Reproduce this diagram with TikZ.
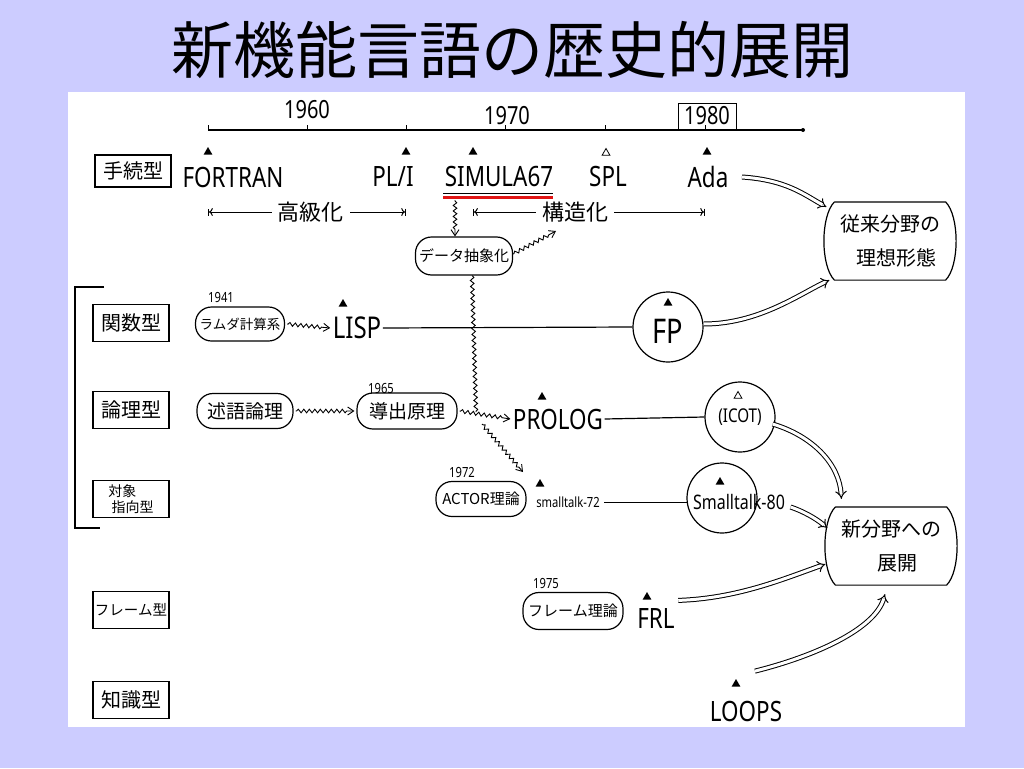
\documentclass[tikz,border=0pt]{standalone}
\usepackage{fontspec}
\newfontfamily\jp{Noto Sans CJK JP}
\newfontfamily\hand[FakeStretch=0.8]{Noto Sans}
\usetikzlibrary{arrows.meta,shapes.geometric,decorations.pathmorphing,calc}
\definecolor{bgc}{RGB}{204,204,255}
\definecolor{ulred}{RGB}{225,20,20}
\begin{document}
\begin{tikzpicture}[x=1pt,y=-1pt,line width=1.2pt,
  rowlab/.style={draw, rectangle, minimum width=76pt, minimum height=37pt, inner sep=1pt, font=\jp\fontsize{20}{22}\selectfont},
  oval/.style={draw, rectangle, rounded corners=16pt, minimum height=34pt, inner sep=1pt},
  lang/.style={inner sep=1pt, font=\hand\fontsize{28}{30}\selectfont},
  yr/.style={inner sep=0pt, font=\hand\fontsize{25}{27}\selectfont},
  yrs/.style={inner sep=0pt, font=\hand\fontsize{14}{15}\selectfont},
  tri/.style={regular polygon, regular polygon sides=3, fill, inner sep=0pt, minimum size=10pt},
  otri/.style={regular polygon, regular polygon sides=3, draw, line width=0.8pt, inner sep=0pt, minimum size=9pt},
  ring/.style={draw, circle, minimum size=70pt, inner sep=0pt},
  wavy/.style={decorate, decoration={snake, amplitude=1.8pt, segment length=5.5pt, pre length=1pt, post length=6pt}, -{Straight Barb[length=6pt,width=8pt]}, line width=0.9pt},
  dbl/.style={double, double distance=3pt, line width=1pt, -{Implies[scale=1.6]}},
  span/.style={|<->|, line width=1pt},
  barrel/.style={inner sep=0pt, minimum width=110pt, minimum height=77pt, align=center, font=\jp\fontsize{20}{34}\selectfont},
]
% background and panel
\fill[bgc] (0,0) rectangle (1024,768);
\fill[white] (68,92) rectangle (965,727);
\useasboundingbox (0,0) rectangle (1024,768);

% title
\node[font=\jp\fontsize{62}{66}\selectfont, inner sep=0pt] (title) at (512,50) {新機能言語の歴史的展開};

% timeline
\draw (208,130) -- (803,130);
\foreach \t in {208,307,406,505,605,705} \draw[line width=1pt] (\t,130) -- (\t,125);
\fill (803,130) circle (2pt);
\node[yr] (y60) at (307,110) {1960};
\node[yr] (y70) at (507,116) {1970};
\node[yr, draw, line width=1pt, inner sep=2pt, minimum width=58pt, minimum height=26pt] (y80) at (707,116) {1980};

% row labels
\node[rowlab, minimum height=32pt] (r1) at (133,171) {手続型};
\node[rowlab] (r2) at (131,323) {関数型};
\node[rowlab] (r3) at (131,410) {論理型};
\node[rowlab, align=left, font=\jp\fontsize{14}{16}\selectfont] (r4) at (131,499) {対象\\\ 指向型};
\node[rowlab, font=\jp\fontsize{14.5}{16}\selectfont] (r5) at (131,610) {フレーム型};
\node[rowlab] (r6) at (131,700) {知識型};
\draw (104,287) -- (75,287) -- (75,528) -- (100,528);

% procedural row
\node[lang] (fortran) at (233,177) {FORTRAN};
\node[lang] (pl1) at (393,177) {PL/I};
\node[lang] (simula) at (499,177) {SIMULA67};
\node[lang] (spl) at (608,177) {SPL};
\node[lang] (ada) at (708,177) {Ada};
\node[tri] (tfortran) at (208,152) {};
\node[tri] (tpl1) at (406,152) {};
\node[tri] (tsimula) at (473,152) {};
\node[otri] (tspl) at (606,153) {};
\node[tri] (tada) at (707,152) {};
\draw[line width=1pt] (443,193) -- (553,193);
\draw[ulred, line width=3pt] (443,197) -- (553,197);

\coordinate (s1) at (208,212);
\coordinate (s2) at (406,212);
\coordinate (s3) at (473,212);
\coordinate (s4) at (705,212);
\draw[span] (s1) -- node[pos=0.52, fill=white, inner xsep=6pt, font=\jp\fontsize{22}{24}\selectfont] (koukyu) {高級化} (s2);
\draw[span] (s3) -- node[pos=0.44, fill=white, inner xsep=6pt, font=\jp\fontsize{22}{24}\selectfont] (kouzou) {構造化} (s4);

\node[oval, minimum width=97pt, minimum height=38pt, font=\jp\fontsize{15}{17}\selectfont] (data) at (464,256) {データ抽象化};
\coordinate (simbot) at (455,200);
\draw[wavy] (simbot) -- (simbot |- data.north);
\coordinate (kz) at (556,231);
\draw[wavy] ([yshift=2pt]data.east) -- (kz);
\coordinate (bend1) at (476,412);
\coordinate (acttip) at (523,472);
\draw[decorate, decoration={snake, amplitude=1.8pt, segment length=6pt}, line width=0.9pt] ([xshift=8pt]data.south) -- (bend1);
\draw[wavy] ($(bend1)+(6,12)$) -- (acttip);

% barrels
\node[barrel] (old) at (890,241) {従来分野の\\\ \ \ 理想形態};
\draw (old.north west) -- (old.north east) .. controls +(14,14) and +(14,-14) .. (old.south east) -- (old.south west) .. controls +(-14,-14) and +(-14,14) .. (old.north west);
\node[barrel] (new) at (891,546) {新分野への\\\ \ \ 展開};
\draw (new.north west) -- (new.north east) .. controls +(14,14) and +(14,-14) .. (new.south east) -- (new.south west) .. controls +(-14,-14) and +(-14,14) .. (new.north west);

% functional row
\node[yrs] (y41) at (221,297) {1941};
\node[oval, minimum width=89pt, font=\jp\fontsize{13.5}{15}\selectfont] (lambda) at (240,324) {ラムダ計算系};
\node[lang, font=\hand\fontsize{30}{32}\selectfont] (lisp) at (357,328) {LISP};
\node[tri] (tlisp) at (343,304) {};
\draw[wavy] ([xshift=2pt]lambda.east) -- ([xshift=-1pt]lisp.west);
\node[ring] (fp) at (668,327) {};
\node[lang, font=\hand\fontsize{34}{36}\selectfont] (fptxt) at (668,331) {FP};
\node[tri] (tfp) at (668,303) {};
\draw (lisp.east) -- (fp.west);

% logic row
\node[oval, minimum width=96pt, minimum height=35pt, font=\jp\fontsize{19}{21}\selectfont] (jutsugo) at (245,411) {述語論理};
\node[yrs] (y65) at (381,388) {1965};
\node[oval, minimum width=100pt, minimum height=36pt, font=\jp\fontsize{19}{21}\selectfont] (dousyutsu) at (407,411) {導出原理};
\node[lang] (prolog) at (558,419) {PROLOG};
\node[tri] (tprolog) at (542,397) {};
\draw[wavy] ([xshift=2pt]jutsugo.east) -- ([xshift=-2pt]dousyutsu.west);
\draw[wavy] ([xshift=2pt]dousyutsu.east) -- ([xshift=-1pt]prolog.west);
\node[ring, font=\hand\fontsize{19}{21}\selectfont] (icot) at (740,417) {(ICOT)};
\node[otri] (ticot) at (738,396) {};
\draw (prolog.east) -- (icot.west);

% object-oriented row
\node[yrs] (y72) at (462,472) {1972};
\node[oval, minimum width=90pt, minimum height=35pt, font=\jp\fontsize{15}{17}\selectfont] (actor) at (481,499) {ACTOR理論};
\node[inner sep=1pt, font=\hand\fontsize{14}{16}\selectfont] (st72) at (568,502) {smalltalk-72};
\node[tri] (tst72) at (540,484) {};
\node[ring] (c80) at (722,498) {};
\node[tri] (tst80) at (720,482) {};
\node[inner sep=1pt, font=\hand\fontsize{20}{22}\selectfont] (st80) at (739,502) {Smalltalk-80};
\draw[line width=1pt] ([xshift=3pt]st72.east) -- ([xshift=-3pt]st80.west);

% frame row
\node[yrs] (y75) at (546,583) {1975};
\node[oval, minimum width=100pt, minimum height=37pt, font=\jp\fontsize{15}{17}\selectfont] (frame) at (573,611) {フレーム理論};
\node[lang] (frl) at (656,618) {FRL};
\node[tri] (tfrl) at (647,597) {};

% knowledge row
\node[lang] (loops) at (746,711) {LOOPS};
\node[tri] (tloops) at (736,684) {};

% double arrows
\draw[dbl] ($(ada.east)+(12,0)$) .. controls +(45,3) and +(-22,-12) .. ($(old.north west)+(-8,5)$);
\draw[dbl] ($(fp.east)+(0,-3)$) .. controls +(55,0) and +(-30,14) .. ($(old.south west)+(-5,0)$);
\draw[dbl] ($(icot.east)+(-3,7)$) .. controls +(40,12) and +(-2,-35) .. ($(new.north west)+(6,-8)$);
\draw[dbl] ($(st80.east)+(4,5)$) .. controls +(12,4) and +(-12,-10) .. ($(new.west)+(-8,-18)$);
\draw[dbl] ($(frl.north east)+(2,-6)$) .. controls +(60,-2) and +(-40,14) .. ($(new.south west)+(-10,-21)$);
\draw[dbl] ($(loops.north)+(9,-28)$) .. controls +(60,-15) and +(-10,35) .. ($(new.south)+(-6,9)$);
\end{tikzpicture}
\end{document}
